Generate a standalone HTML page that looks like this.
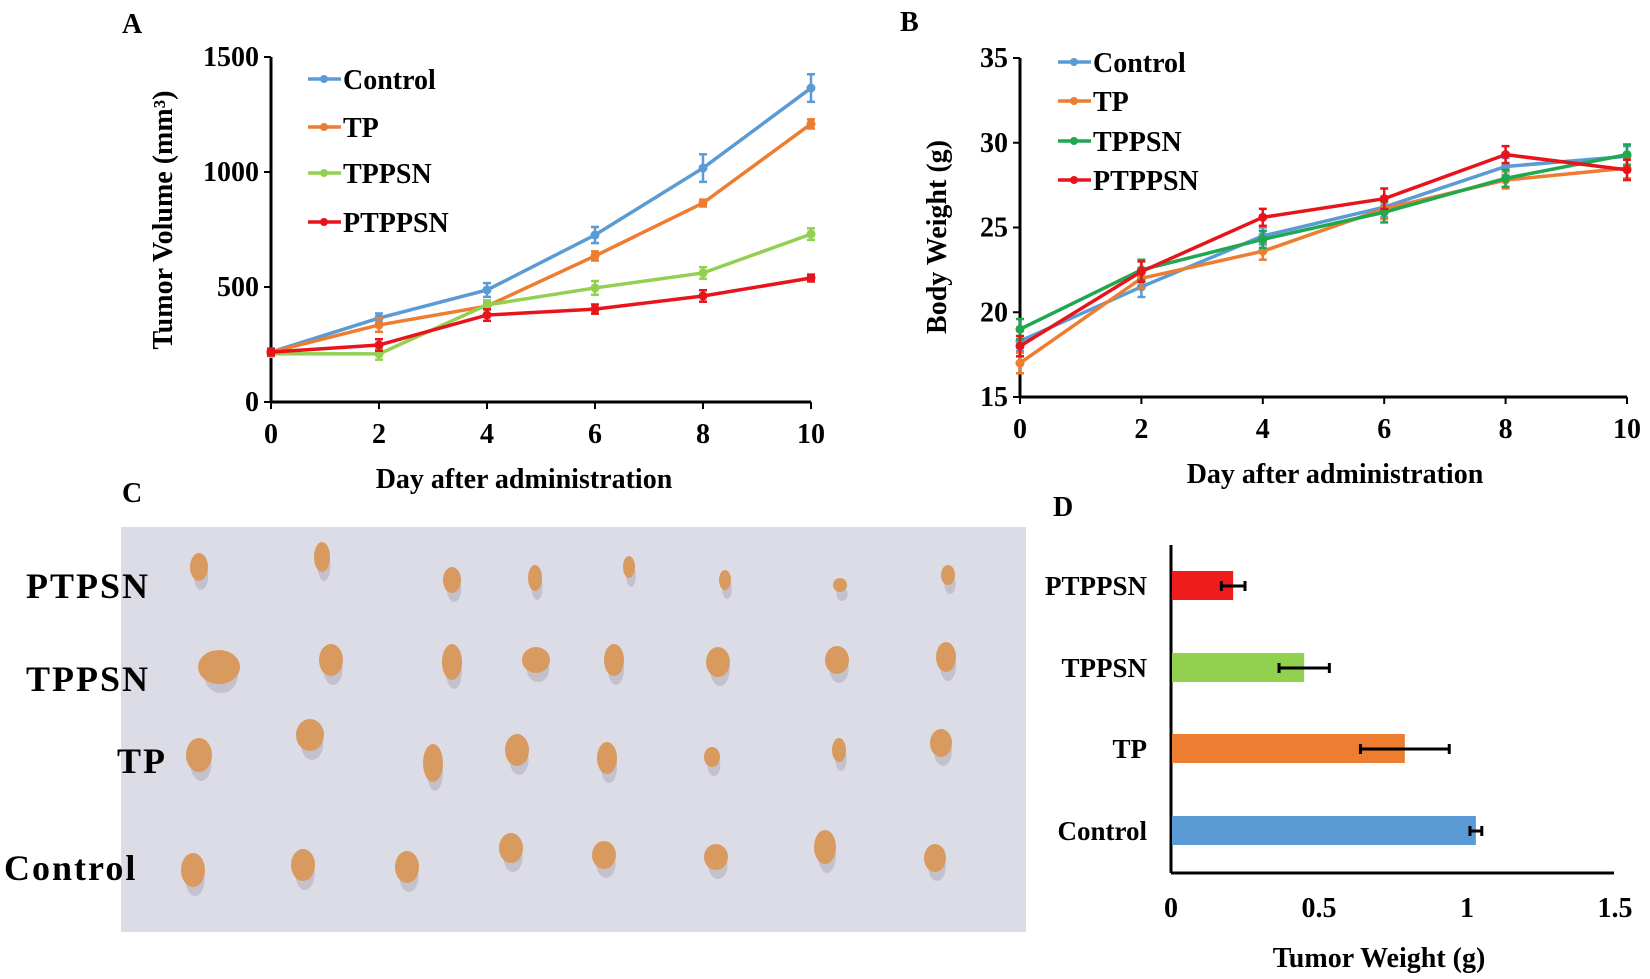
<!DOCTYPE html>
<html><head><meta charset="utf-8"><style>
html,body{margin:0;padding:0;background:#fff}
svg{display:block;font-family:"Liberation Serif",serif;font-weight:bold}
</style></head><body>
<svg id="fig" width="1650" height="979" viewBox="0 0 1650 979" xmlns="http://www.w3.org/2000/svg">
<text x="122" y="33" font-size="28">A</text>
<text x="900" y="31" font-size="28">B</text>
<text x="122" y="502" font-size="28">C</text>
<text x="1053" y="516" font-size="28">D</text>
<g id="chartA"></g>
<g id="chartB"></g>
<g id="photo">
<rect x="121" y="527" width="905" height="405" fill="#dcdce6"/>
</g>
<text x="26" y="598" font-size="36" letter-spacing="2">PTPSN</text>
<text x="26" y="691" font-size="36" letter-spacing="2">TPPSN</text>
<text x="117" y="773" font-size="36" letter-spacing="2">TP</text>
<text x="4" y="880" font-size="36" letter-spacing="2">Control</text>
<g id="chartD"></g>
</svg>
<script>
const NS="http://www.w3.org/2000/svg";
function mk(parent,tag,attrs,txt){const e=document.createElementNS(NS,tag);for(const k in attrs)e.setAttribute(k,attrs[k]);if(txt!==undefined)e.textContent=txt;parent.appendChild(e);return e;}

// ---- Panel A data ----
const days=[0,2,4,6,8,10];
const seriesNames=["Control","TP","TPPSN","PTPPSN"];
const volControl=[217,365,487,726,1017,1365];
const volTP=[217,335,417,635,865,1209];
const volTPPSN=[210,209,422,496,561,730];
const volPTPPSN=[217,248,378,404,461,539];
const volErrControl=[15,20,30,35,60,60];
const volErrTP=[10,30,15,20,15,20];
const volErrTPPSN=[10,25,20,30,25,25];
const volErrPTPPSN=[15,25,25,20,25,15];
const volTicks=[0,500,1000,1500];
// ---- Panel B data ----
const wtControl=[18.3,21.5,24.5,26.2,28.6,29.2];
const wtTP=[17.0,22.0,23.6,26.1,27.8,28.5];
const wtTPPSN=[19.0,22.5,24.3,25.9,27.9,29.3];
const wtPTPPSN=[18.0,22.4,25.6,26.7,29.3,28.4];
const wtErr=[0.6,0.6,0.5,0.6,0.5,0.6];
const wtTicks=[15,20,25,30,35];
const dayTicks=[0,2,4,6,8,10];
// ---- Panel D data ----
const groups=["Control","TP","TPPSN","PTPPSN"];
const tumorWeight=[1.03,0.79,0.45,0.21];
const tumorWeightErr=[0.02,0.15,0.085,0.04];
const weightTicks=[0,0.5,1,1.5];

const colA=["#5b9bd5","#ed7d31","#92d050","#e8141c"];
const colB=["#5b9bd5","#ed7d31","#1fa84f","#e8141c"];

function lineChart(g,opt){
  const X=v=>opt.x0+(v-opt.xmin)/(opt.xmax-opt.xmin)*(opt.x1-opt.x0);
  const Y=v=>opt.y0-(v-opt.ymin)/(opt.ymax-opt.ymin)*(opt.y0-opt.y1);
  let e;
  e=mk(g,"line",{x1:opt.x0,y1:opt.y1,x2:opt.x0,y2:opt.y0,stroke:"#000","stroke-width":3});
  
  
  e=mk(g,"line",{x1:opt.x0,y1:opt.y0,x2:opt.x1,y2:opt.y0,stroke:"#000","stroke-width":3});
  
  
  opt.yticks.forEach(t=>{
    mk(g,"line",{x1:opt.x0-7,y1:Y(t),x2:opt.x0,y2:Y(t),stroke:"#000","stroke-width":2});
    e=mk(g,"text",{x:opt.x0-12,y:Y(t)+9,"font-size":28,"text-anchor":"end"},t);
    
    
  });
  opt.xticks.forEach(t=>{
    mk(g,"line",{x1:X(t),y1:opt.y0,x2:X(t),y2:opt.y0+7,stroke:"#000","stroke-width":2});
    e=mk(g,"text",{x:X(t),y:opt.y0+41,"font-size":28,"text-anchor":"middle"},t);
    
    
  });
  e=mk(g,"text",{x:opt.xtx,y:opt.y0+86,"font-size":28,"text-anchor":"middle"},"Day after administration");
  
  
  e=mk(g,"text",{x:0,y:0,"font-size":28,"text-anchor":"middle",transform:`translate(${opt.ytx},${opt.yty}) rotate(-90)`},opt.ytitle);
  
  
  opt.series.forEach((s,i)=>{
    const sg=mk(g,"g",{});
    
    
    const pts=days.map((d,j)=>X(d)+","+Y(s[j])).join(" ");
    mk(sg,"polyline",{points:pts,fill:"none",stroke:opt.colors[i],"stroke-width":3.5});
    days.forEach((d,j)=>{
      const er=opt.errs[i][j];
      mk(sg,"line",{x1:X(d),y1:Y(s[j]-er),x2:X(d),y2:Y(s[j]+er),stroke:opt.colors[i],"stroke-width":2.5});
      mk(sg,"line",{x1:X(d)-4,y1:Y(s[j]-er),x2:X(d)+4,y2:Y(s[j]-er),stroke:opt.colors[i],"stroke-width":2.5});
      mk(sg,"line",{x1:X(d)-4,y1:Y(s[j]+er),x2:X(d)+4,y2:Y(s[j]+er),stroke:opt.colors[i],"stroke-width":2.5});
      const p=mk(sg,"circle",{cx:X(d),cy:Y(s[j]),r:4.5,fill:opt.colors[i]});
      
      
    });
    const lg=mk(g,"g",{});
    
    
    const ly=opt.legY[i];
    mk(lg,"line",{x1:opt.legX,y1:ly,x2:opt.legX+33,y2:ly,stroke:opt.colors[i],"stroke-width":3.5});
    mk(lg,"circle",{cx:opt.legX+16,cy:ly,r:4,fill:opt.colors[i]});
    mk(lg,"text",{x:opt.legX+35,y:ly+10,"font-size":28},seriesNames[i]);
  });
}
lineChart(document.getElementById("chartA"),{x0:271,x1:811,y0:402,y1:57,xmin:0,xmax:10,ymin:0,ymax:1500,
  yticks:volTicks,xticks:dayTicks,xtx:524,ytx:172,yty:220,ytitle:"Tumor Volume (mm³)",
  series:[volControl,volTP,volTPPSN,volPTPPSN],errs:[volErrControl,volErrTP,volErrTPPSN,volErrPTPPSN],
  colors:colA,legX:308,legY:[79,127,173,222]});
lineChart(document.getElementById("chartB"),{x0:1020,x1:1627,y0:397,y1:58,xmin:0,xmax:10,ymin:15,ymax:35,
  yticks:wtTicks,xticks:dayTicks,xtx:1335,ytx:946,yty:237,ytitle:"Body Weight (g)",
  series:[wtControl,wtTP,wtTPPSN,wtPTPPSN],errs:[wtErr,wtErr,wtErr,wtErr],
  colors:colB,legX:1058,legY:[62,101,141,180]});

// ---- Panel C tumors ----
const tumors=[
[199,567,9,14],[322,557,8,15],[452,580,9,13],[535,578,7,13],[629,567,6,11],[725,580,6,10],[840,585,7,7],[948,575,7,10],
[219,667,21,17],[331,660,12,16],[452,662,10,18],[536,660,14,13],[614,660,10,16],[718,662,12,15],[837,660,12,14],[946,657,10,15],
[199,755,13,17],[310,735,14,16],[433,763,10,19],[517,750,12,16],[607,758,10,16],[712,757,8,10],[839,750,7,12],[941,743,11,14],
[193,870,12,17],[303,865,12,16],[407,867,12,16],[511,848,12,15],[604,855,12,14],[716,857,12,13],[825,847,11,17],[935,858,11,14]];
const ph=document.getElementById("photo");
tumors.forEach(t=>{
  mk(ph,"ellipse",{cx:t[0]+2,cy:t[1]+9,rx:t[2]*0.8,ry:t[3],fill:"#6d6470",opacity:0.22});
  const e=mk(ph,"ellipse",{cx:t[0],cy:t[1],rx:t[2],ry:t[3],fill:"#d99a60"});
  
  
});

// ---- Panel D ----
(function(){
  const g=document.getElementById("chartD");
  const x0=1171,y0=873,ytop=545,pxPer=296;
  const X=v=>x0+v*pxPer;
  const centers=[831,749,668,586];
  let e;
  e=mk(g,"line",{x1:x0,y1:ytop,x2:x0,y2:y0,stroke:"#000","stroke-width":3});
  
  
  e=mk(g,"line",{x1:x0,y1:y0,x2:1614,y2:y0,stroke:"#000","stroke-width":3});
  
  
  weightTicks.forEach(t=>{
    e=mk(g,"text",{x:X(t),y:917,"font-size":28,"text-anchor":"middle"},t);
    
    
  });
  e=mk(g,"text",{x:1379,y:967,"font-size":28,"text-anchor":"middle"},"Tumor Weight (g)");
  
  
  const cols=["#5b9bd5","#ed7d31","#92d050","#ee1c1c"];
  groups.forEach((gname,i)=>{
    const cy=centers[i];
    const b=mk(g,"rect",{x:x0+1,y:cy-15,width:X(tumorWeight[i])-x0-1,height:29,fill:cols[i]});
    
    
    const a=X(tumorWeight[i]-tumorWeightErr[i]),c=X(tumorWeight[i]+tumorWeightErr[i]);
    mk(g,"line",{x1:a,y1:cy,x2:c,y2:cy,stroke:"#000","stroke-width":3});
    mk(g,"line",{x1:a,y1:cy-5,x2:a,y2:cy+5,stroke:"#000","stroke-width":3});
    mk(g,"line",{x1:c,y1:cy-5,x2:c,y2:cy+5,stroke:"#000","stroke-width":3});
    const t=mk(g,"text",{x:1147,y:cy+9,"font-size":27,"text-anchor":"end"},gname);
    
    
  });
})();
</script>
</body></html>
